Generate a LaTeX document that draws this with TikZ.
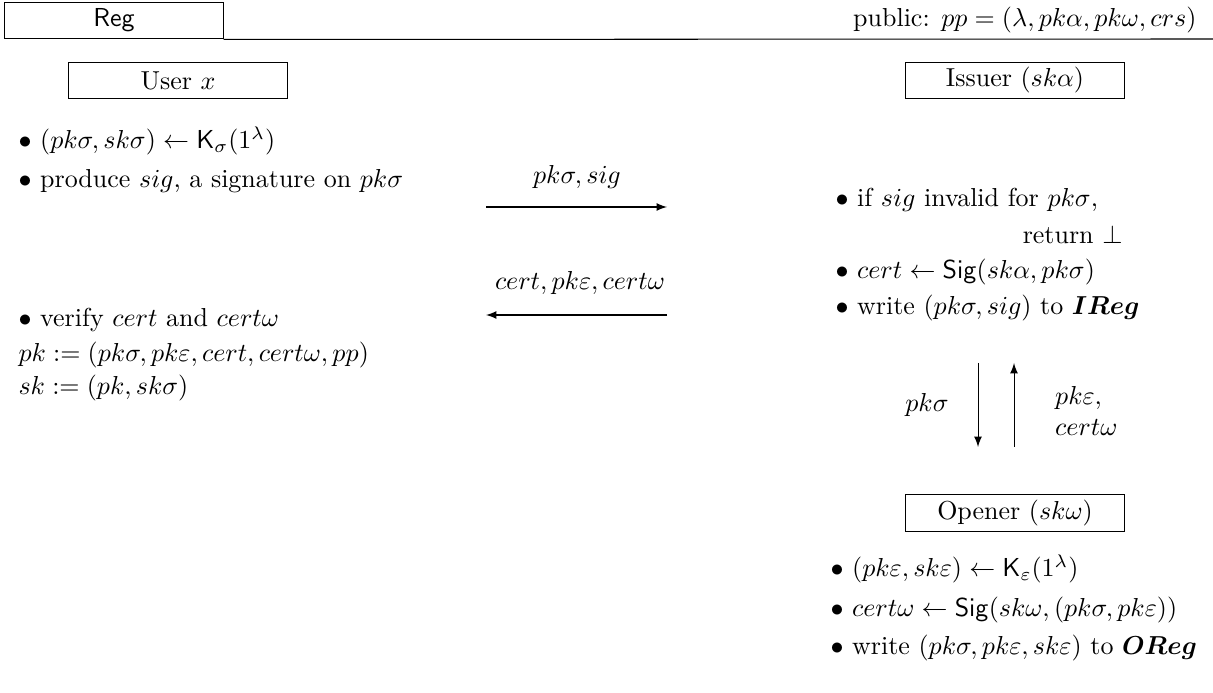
\documentclass[tikz,border=0pt]{standalone}
\usepackage{amsmath,amssymb}
\usetikzlibrary{arrows}
\tikzset{arrow/.style = {->,>=latex}}
\tikzset{party/.style = {draw, minimum width=84pt, minimum height=14.2pt, inner sep=0pt}}
\tikzset{line/.style = {anchor=base west, inner sep=0pt}}

\begin{document}
\begin{tikzpicture}[x=0.385pt, y=-0.385pt]
\useasboundingbox (0,0) rectangle (1213,693);

% header
\node[party] (reg) at (114,20.5) {\textsf{Reg}\hspace{8pt}};
\coordinate (rend) at (1213,39);
\draw (reg.south east) -- (rend);
\node[anchor=base east, inner sep=0pt] (pub) at (1197,27) {public: $pp = (\lambda, pk\alpha, pk\omega, crs)$};

% parties
\node[party] (user) at (178,80.5) {User $x$};
\node[party] (issuer) at (1015,80.5) {Issuer $(sk\alpha)$};
\node[party] (opener) at (1015,513) {Opener $(sk\omega)$};

% user
\node[line] (u1) at (18,148.5) {$\bullet$ $(pk\sigma, sk\sigma) \leftarrow \mathsf{K}_\sigma(1^\lambda)$};
\node[line] (u2) at (18,187.5) {$\bullet$ produce $sig$, a signature on $pk\sigma$};
\node[line] (u3) at (18,326.5) {$\bullet$ verify $cert$ and $cert\omega$};
\node[line] (u4) at (18,361.5) {$pk := (pk\sigma, pk\varepsilon, cert, cert\omega, pp)$};
\node[line] (u5) at (18,395) {$sk := (pk, sk\sigma)$};

% issuer
\node[line] (i1) at (835,206.5) {$\bullet$ if $sig$ invalid for $pk\sigma$,};
\node[anchor=base east, inner sep=0pt] (i2) at (1123,243.5) {return $\bot$};
\node[line] (i3) at (835,278.5) {$\bullet$ $cert \leftarrow \mathsf{Sig}(sk\alpha, pk\sigma)$};
\node[line] (i4) at (835,314.5) {$\bullet$ write $(pk\sigma, sig)$ to $\boldsymbol{IReg}$};

% opener
\node[line] (o1) at (830,576.5) {$\bullet$ $(pk\varepsilon, sk\varepsilon) \leftarrow \mathsf{K}_\varepsilon(1^\lambda)$};
\node[line] (o2) at (830,616.5) {$\bullet$ $cert\omega \leftarrow \mathsf{Sig}(sk\omega, (pk\sigma, pk\varepsilon))$};
\node[line] (o3) at (830,654.5) {$\bullet$ write $(pk\sigma, pk\varepsilon, sk\varepsilon)$ to $\boldsymbol{OReg}$};

% messages user <-> issuer
\node (m1) at (577,177) {$pk\sigma, sig$};
\coordinate (a1s) at (486,207);
\coordinate (a1e) at (667,207);
\draw[arrow] (a1s) -- (a1e);

\node (m2) at (580,283) {$cert, pk\varepsilon, cert\omega$};
\coordinate (a2s) at (667,315);
\coordinate (a2e) at (486,315);
\draw[arrow] (a2s) -- (a2e);

% messages issuer <-> opener
\node (m3) at (927,405) {$pk\sigma$};
\coordinate (d1s) at (978,363);
\coordinate (d1e) at (978,447);
\draw[arrow] (d1s) -- (d1e);

\node[anchor=west, align=left] (m4) at (1046,411) {$pk\varepsilon,$\\$cert\omega$};
\coordinate (d2s) at (1014,447);
\coordinate (d2e) at (1014,363);
\draw[arrow] (d2s) -- (d2e);

\end{tikzpicture}
\end{document}
